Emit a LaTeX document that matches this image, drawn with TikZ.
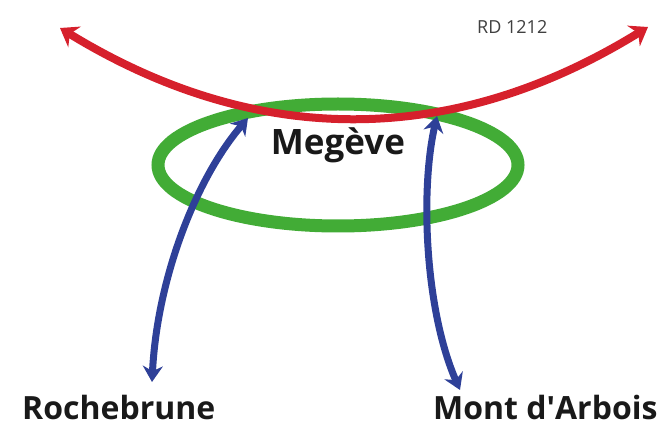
\documentclass[tikz,border=0pt]{standalone}
\usepackage{fontspec}
\setmainfont{Open Sans}
\usetikzlibrary{arrows.meta, shapes.geometric}

\definecolor{roadred}{RGB}{214,32,44}
\definecolor{ringgreen}{RGB}{66,172,54}
\definecolor{linkblue}{RGB}{46,64,152}

\begin{document}
\begin{tikzpicture}[x=1pt, y=-1pt]

\tikzset{ring/.style = {shape=ellipse, draw=ringgreen, line width=13pt, minimum width=360pt, minimum height=122pt}}
\tikzset{road/.style = {draw=roadred, line width=8pt, {Stealth[length=17pt, width=24pt]}-{Stealth[length=17pt, width=24pt]}}}
\tikzset{link/.style = {draw=linkblue, line width=7pt, {Stealth[length=16pt, width=20pt]}-{Stealth[length=16pt, width=20pt]}}}
\tikzset{place/.style = {font=\bfseries\fontsize{32}{34}\selectfont, inner sep=0pt, text=black!90}}

\useasboundingbox (0,0) rectangle (669,430);

% vertices
\node[ring] (ring) at (338,165) {};
\node[place, anchor=base, font=\bfseries\fontsize{35}{37}\selectfont] (megeve) at (338,155) {Megève};
\node[anchor=base west, inner sep=0pt, text=black!75, font=\fontsize{18}{20}\selectfont] (rd) at (477,34) {RD 1212};
\node[place, anchor=base west] (rochebrune) at (22,419) {Rochebrune};
\node[place, anchor=base west] (arbois) at (433,419) {Mont d\textquotesingle Arbois};

\coordinate (west) at (60,28);
\coordinate (east) at (648,27);
\coordinate (rb-top) at (248,118);
\coordinate (rb-end) at (152,382);
\coordinate (ma-top) at (437,116);
\coordinate (ma-end) at (460,390);

%edges
\draw[road] (west) .. controls (256,148) and (452,148) .. (east);
\draw[link] (rb-end) .. controls (157,280) and (195,180) .. (rb-top);
\draw[link] (ma-top) .. controls (420,190) and (425,310) .. (ma-end);

\end{tikzpicture}
\end{document}
